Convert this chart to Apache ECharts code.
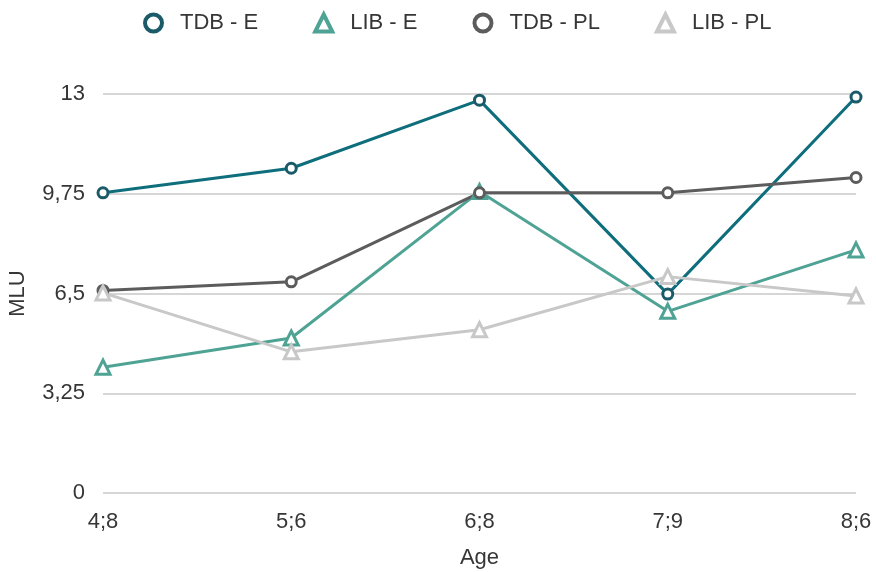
<!DOCTYPE html>
<html>
<head>
<meta charset="utf-8">
<script src="https://cdn.jsdelivr.net/npm/echarts@6/dist/echarts.min.js"></script>
<style>
  html, body { margin: 0; padding: 0; background: #fff; }
  #chart { width: 876px; height: 572px; }
</style>
</head>
<body>
<div id="chart"></div>
<script>
// Ages (years;months) on the x axis
const ages = ['4;8', '5;6', '6;8', '7;9', '8;6'];

// MLU per session
const tdbE  = [9.78, 10.58, 12.8, 6.48, 12.9];
const libE  = [4.1, 5.05, 9.82, 5.92, 7.92];
const tdbPL = [6.6, 6.88, 9.78, 9.78, 10.28];
const libPL = [6.52, 4.6, 5.32, 7.05, 6.42];

const yTicks = [0, 3.25, 6.5, 9.75, 13];

const FONT = '"Liberation Sans", Arial, sans-serif';
const TEXT = '#363636';

const palette = {
  'TDB - E':  { line: '#0e6e7c', mark: '#1a5a69', symbol: 'circle' },
  'LIB - E':  { line: '#4fa394', mark: '#4fa394', symbol: 'triangle' },
  'TDB - PL': { line: '#5c5c5c', mark: '#5c5c5c', symbol: 'circle' },
  'LIB - PL': { line: '#c8c8c8', mark: '#c8c8c8', symbol: 'triangle' }
};

function lineSeries(name, data) {
  const p = palette[name];
  return {
    name: name,
    type: 'line',
    data: data,
    symbol: p.symbol,
    symbolSize: p.symbol === 'circle' ? 10 : 14,
    showAllSymbol: true,
    lineStyle: { color: p.line, width: 3 },
    itemStyle: { color: '#ffffff', borderColor: p.mark, borderWidth: 3 },
    emphasis: { disabled: true }
  };
}

function legendItem(name) {
  const p = palette[name];
  return {
    name: name,
    icon: p.symbol,
    itemStyle: { color: '#ffffff', borderColor: p.mark, borderWidth: 4 }
  };
}

const chart = echarts.init(document.getElementById('chart'), null, { renderer: 'canvas' });

chart.setOption({
  animation: false,
  backgroundColor: '#ffffff',
  textStyle: { fontFamily: FONT },
  legend: {
    top: 7,
    left: 138,
    itemGap: 55,
    itemWidth: 17,
    itemHeight: 17,
    textStyle: { fontFamily: FONT, fontSize: 22, color: TEXT, padding: [0, 0, 0, 13] },
    data: ['TDB - E', 'LIB - E', 'TDB - PL', 'LIB - PL'].map(legendItem)
  },
  grid: { left: 103, right: 20, top: 94, bottom: 79, containLabel: false, outerBoundsMode: 'none' },
  xAxis: {
    type: 'category',
    data: ages,
    boundaryGap: false,
    name: 'Age',
    nameLocation: 'middle',
    nameGap: 54,
    nameTextStyle: { fontFamily: FONT, fontSize: 22, color: TEXT },
    axisLine: { show: false },
    axisTick: { show: false },
    axisLabel: { fontFamily: FONT, fontSize: 22, color: TEXT, margin: 18 },
    splitLine: { show: false }
  },
  yAxis: {
    type: 'value',
    min: yTicks[0],
    max: yTicks[yTicks.length - 1],
    interval: yTicks[1] - yTicks[0],
    name: 'MLU',
    nameLocation: 'middle',
    nameGap: 74,
    nameRotate: 90,
    nameTextStyle: { fontFamily: FONT, fontSize: 22, color: TEXT },
    axisLine: { show: false },
    axisTick: { show: false },
    axisLabel: {
      fontFamily: FONT, fontSize: 22, color: TEXT, margin: 18,
      formatter: v => String(v).replace('.', ',')
    },
    splitLine: { show: true, lineStyle: { color: '#c8c8c8', width: 1.5 } }
  },
  series: [
    lineSeries('TDB - E',  tdbE),
    lineSeries('LIB - E',  libE),
    lineSeries('TDB - PL', tdbPL),
    lineSeries('LIB - PL', libPL)
  ]
});
</script>
</body>
</html>
